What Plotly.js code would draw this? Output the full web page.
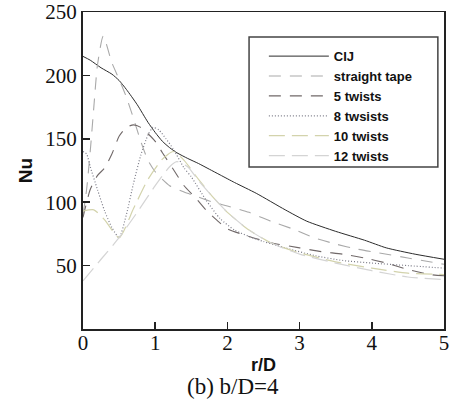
<!DOCTYPE html>
<html>
<head>
<meta charset="utf-8">
<script src="https://cdn.plot.ly/plotly-3.0.1.min.js"></script>
<style>html,body{margin:0;padding:0;background:#fff;}#chart{width:453px;height:403px;}</style>
</head>
<body>
<div id="chart"></div>
<script>
// ---- data ----
var seriesNames = ["CIJ", "straight tape", "5 twists", "8 twsists", "10 twists", "12 twists"];

var cijX = [0, 0.1, 0.25, 0.4, 0.5, 0.6, 0.75, 0.9, 1.0, 1.1, 1.2, 1.3, 1.45, 1.6, 1.75, 1.9, 2.1, 2.4, 2.8, 3.1, 3.5, 3.9, 4.2, 4.6, 5];
var cijY = [215, 212, 206, 201, 196, 189, 177, 163, 155, 148, 143, 139, 134.5, 130.5, 126, 121.5, 115.5, 107, 94, 85, 77, 70, 64, 59, 55];

var straightX = [0, 0.05, 0.1, 0.15, 0.2, 0.28, 0.4, 0.5, 0.6, 0.7, 0.8, 0.9, 1.0, 1.1, 1.2, 1.4, 1.6, 1.8, 2.0, 2.3, 2.6, 2.9, 3.2, 3.5, 3.8, 4.1, 4.5, 4.8, 5];
var straightY = [90, 110, 140, 175, 208, 231, 210, 197, 183, 166, 148, 133, 124, 118, 113, 108, 104, 100, 97, 92, 85, 79, 72, 67, 63, 60, 56, 53, 51];

var tw5X = [0, 0.1, 0.2, 0.3, 0.4, 0.5, 0.6, 0.7, 0.8, 0.9, 1.0, 1.1, 1.25, 1.4, 1.55, 1.7, 1.85, 2.0, 2.3, 2.6, 3.0, 3.3, 3.6, 3.9, 4.2, 4.5, 4.8, 5];
var tw5Y = [88, 110, 121, 127, 138, 152, 159, 161, 159, 154, 148, 139, 126, 113, 104, 94, 86, 79, 73, 68, 64, 61, 59, 56, 52, 47, 43, 42];

var tw8X = [0, 0.05, 0.1, 0.2, 0.3, 0.4, 0.5, 0.6, 0.7, 0.8, 0.9, 0.97, 1.05, 1.15, 1.25, 1.4, 1.5, 1.7, 1.9, 2.1, 2.3, 2.5, 2.8, 3.2, 3.6, 4.0, 4.5, 5];
var tw8Y = [140, 138, 128, 110, 93, 80, 72, 90, 115, 137, 153, 159, 157, 150, 142, 127, 120, 102, 87, 78, 73, 69, 64, 58, 54, 52, 50, 48];

var tw10X = [0, 0.15, 0.3, 0.5, 0.7, 0.9, 1.1, 1.25, 1.4, 1.6, 1.8, 2.0, 2.3, 2.6, 3.0, 3.5, 4.0, 4.5, 5];
var tw10Y = [93, 94, 86, 72, 95, 118, 134, 140, 133, 118, 104, 92, 78, 68, 60, 53, 48, 44, 43];

var tw12X = [0, 0.25, 0.5, 0.75, 1.0, 1.2, 1.3, 1.45, 1.6, 1.8, 2.0, 2.3, 2.6, 3.0, 3.5, 4.0, 4.5, 5];
var tw12Y = [38, 55, 72, 92, 113, 128, 132, 128, 117, 104, 92, 78, 68, 59, 52, 46, 41, 39];

var xTickVals = [0, 1, 2, 3, 4, 5];
var yTickVals = [50, 100, 150, 200, 250];
var xTitle = "r/D";
var yTitle = "Nu";
var caption = "(b) b/D=4";

// ---- styles ----
var styles = [
  {color: "#2b2b2b", dash: "solid", width: 1},
  {color: "#a9a9a9", dash: "12px,9px", width: 1.1},
  {color: "#706868", dash: "12px,9px", width: 1.1},
  {color: "#7c7c88", dash: "1px,2px", width: 1.2},
  {color: "#d3d3ac", dash: "16px,7px", width: 1.2},
  {color: "#d4d4d4", dash: "16px,7px", width: 1.2}
];
var xs = [cijX, straightX, tw5X, tw8X, tw10X, tw12X];
var ys = [cijY, straightY, tw5Y, tw8Y, tw10Y, tw12Y];

var traces = seriesNames.map(function (n, i) {
  return {
    x: xs[i], y: ys[i], name: n, type: "scatter", mode: "lines",
    line: {color: styles[i].color, dash: styles[i].dash, width: styles[i].width, shape: "spline", smoothing: 0.6},
    hoverinfo: "skip"
  };
});

var serif = "Liberation Serif, Times New Roman, serif";
var sans = "Liberation Sans, Arial, sans-serif";

var layout = {
  width: 453, height: 403,
  margin: {l: 83, r: 9, t: 12, b: 74},
  paper_bgcolor: "#fff", plot_bgcolor: "#fff",
  showlegend: true,
  legend: {
    x: 0.501, y: 0.908, xanchor: "left", yanchor: "top",
    bgcolor: "rgba(0,0,0,0)", borderwidth: 0,
    font: {family: sans, size: 13, color: "#111", weight: "bold"},
    itemwidth: 60, tracegroupgap: 0
  },
  xaxis: {
    range: [0, 5], tickvals: xTickVals, ticks: "inside", ticklen: 7, tickwidth: 1.5, tickcolor: "#222",
    showline: true, linecolor: "#222", linewidth: 1.5, mirror: true,
    showgrid: false, zeroline: false, ticklabelstandoff: -6,
    tickfont: {family: serif, size: 21, color: "#111"},
    title: {text: xTitle, font: {family: sans, size: 18, color: "#111", weight: "bold"}, standoff: 4}
  },
  yaxis: {
    range: [0, 250], tickvals: yTickVals, ticks: "inside", ticklen: 7, tickwidth: 1.5, tickcolor: "#222",
    showline: true, linecolor: "#222", linewidth: 2, mirror: true,
    showgrid: false, zeroline: false,
    tickfont: {family: serif, size: 21, color: "#111"},
    title: {text: yTitle, font: {family: sans, size: 19, color: "#111", weight: "bold"}, standoff: 8}
  },
  shapes: [{
    type: "rect", xref: "paper", yref: "paper", layer: "above",
    x0: 0.46, x1: 0.983, y0: 0.511, y1: 0.921,
    line: {color: "#444", width: 1.5}, fillcolor: "#fff"
  }],
  annotations: [{
    text: caption, xref: "paper", yref: "paper", x: 0.416, y: -0.182,
    xanchor: "center", yanchor: "middle", showarrow: false,
    font: {family: serif, size: 23, color: "#111"}
  }]
};

Plotly.newPlot("chart", traces, layout, {staticPlot: true, displayModeBar: false});
</script>
</body>
</html>
